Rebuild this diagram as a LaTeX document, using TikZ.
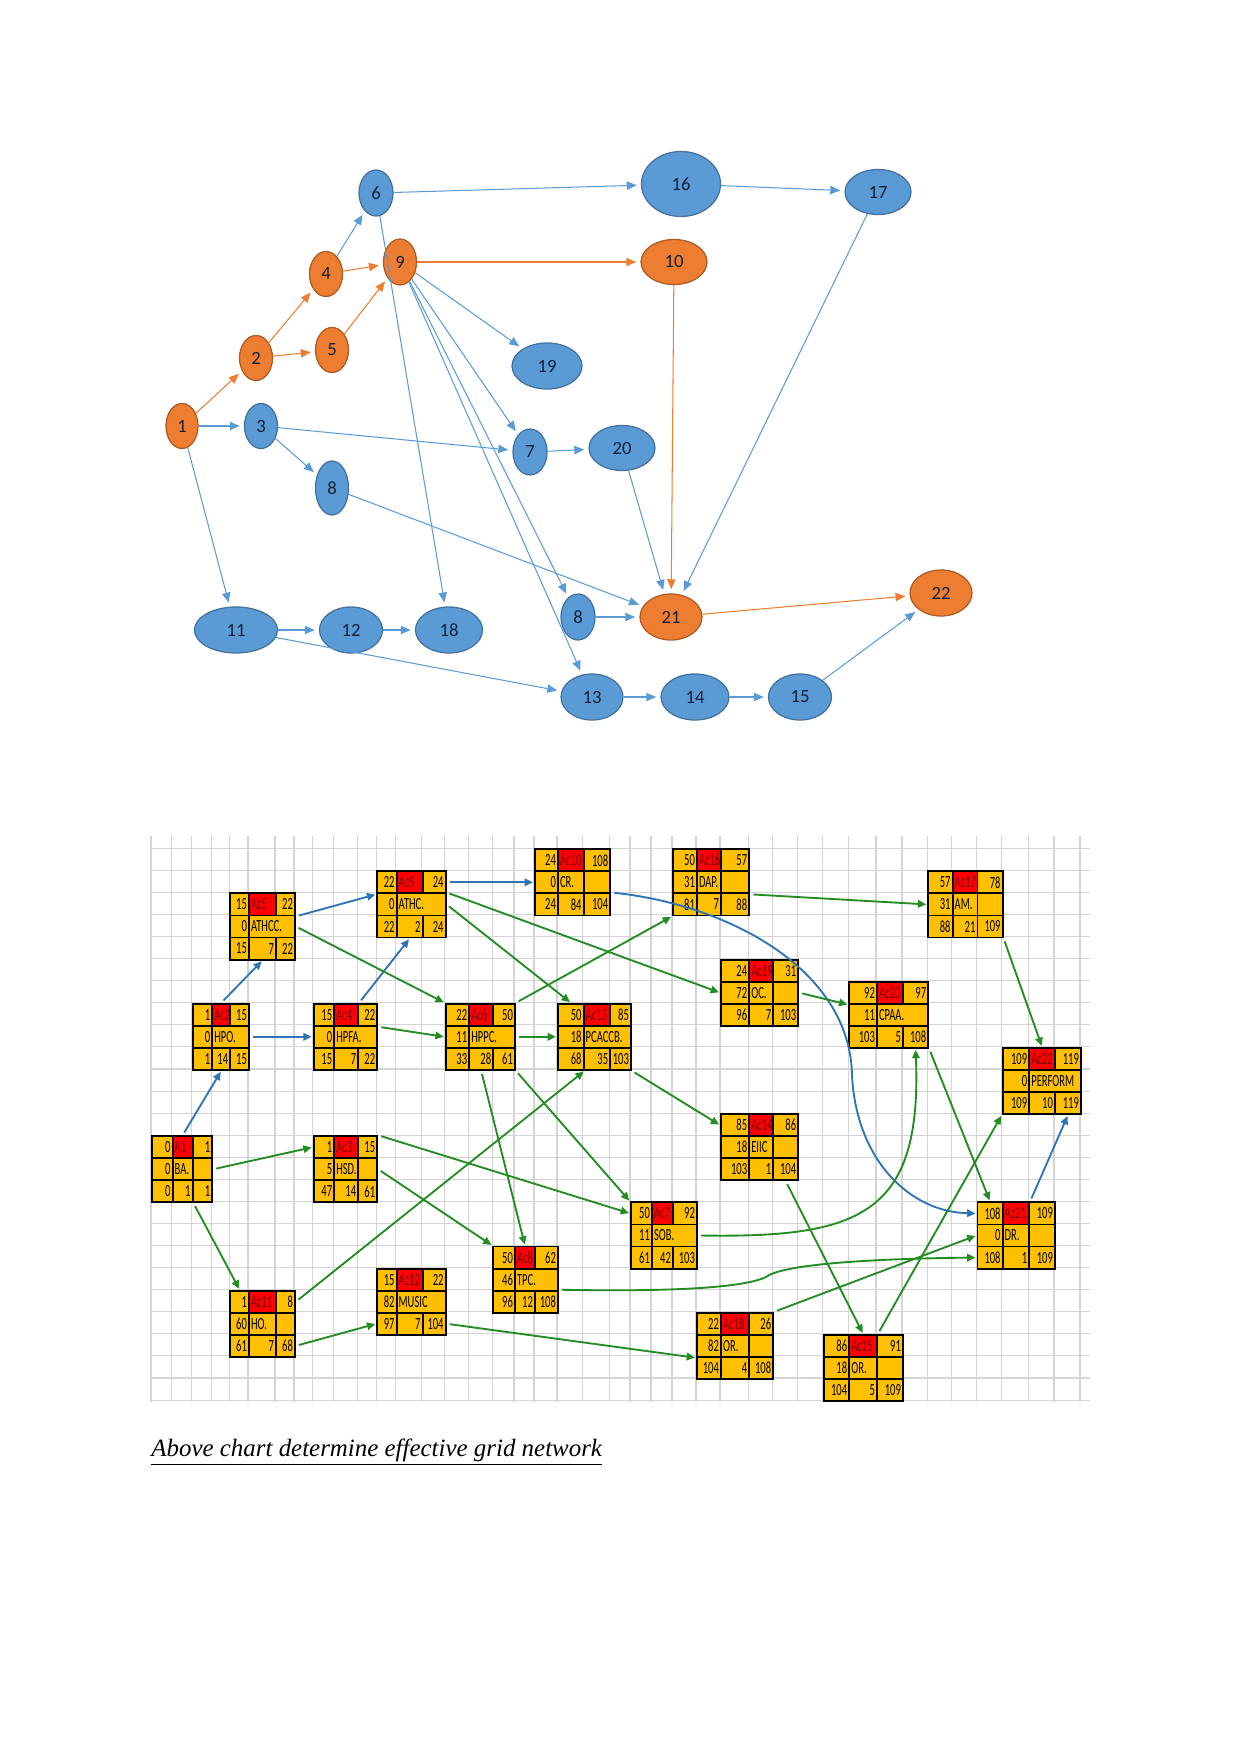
\documentclass[tikz,border=0pt]{standalone}
\usepackage{fontspec}
\setmainfont{Liberation Serif}
\newfontfamily\cellfont[FakeStretch=0.62]{Carlito}
\newfontfamily\bubblefont{Carlito}
\usepackage{tikz}
\usetikzlibrary{shapes.geometric,arrows.meta}

\definecolor{bubbleblue}{HTML}{5B9BD5}
\definecolor{bubbleblueline}{HTML}{41719C}
\definecolor{bubbleorange}{HTML}{ED7D31}
\definecolor{bubbleorangeline}{HTML}{AE5A21}
\definecolor{bubbletext}{HTML}{15213A}
\definecolor{cellgold}{HTML}{FFC000}
\definecolor{cellred}{HTML}{FF0000}
\definecolor{celltext}{HTML}{7A0000}
\definecolor{linkblue}{HTML}{2E75B6}
\definecolor{linkgreen}{HTML}{238C23}
\definecolor{gridgrey}{HTML}{D4D4D4}

\newcommand\gridx{{151,171.7,191.7,211.3,229.3,248,275,294,312.7,333.3,357.3,376.3,395.7,421.7,444.7,468.3,492.3,514,534,557,582.7,609.3,630,651,672,696,720,748.3,772.3,797.3,822.7,848.3,876,902,927.3,951.7,976.5,1001.7,1028.3,1054,1080}}

\begin{document}
\begin{tikzpicture}[x=0.0169218cm,y=-0.0169218cm,
    bubble/.style 2 args={ellipse,draw=bubbleblueline,fill=bubbleblue,line width=0.6pt,
      minimum width=#1*0.4815pt,minimum height=#2*0.4815pt,inner sep=0pt,
      font=\bubblefont\fontsize{9}{9}\selectfont,text=bubbletext},
    crit/.style={draw=bubbleorangeline,fill=bubbleorange},
    cool/.style={draw=bubbleblue,line width=0.5pt,-{Triangle[length=4.8pt,width=4pt]},shorten >=2pt},
    hot/.style={cool,draw=bubbleorange},
    cell/.style={draw=black,line width=0.9pt,fill=cellgold,anchor=north west,
      inner xsep=1pt,inner ysep=0pt,minimum height=22.07*0.4815pt,
      font=\cellfont\fontsize{8.2}{8.5}\selectfont},
    bluelink/.style={draw=linkblue,line width=0.9pt,-{Triangle[length=4pt,width=3.6pt]},
      shorten >=0.5pt,shorten <=1.5pt},
    greenlink/.style={bluelink,draw=linkgreen},
    gridline/.style={draw=gridgrey,line width=0.5pt}]

\useasboundingbox (0,0) rectangle (1241,1754);

\node[bubble={32}{45},crit] (n1) at (182,426) {1};
\node[bubble={33}{45},crit] (n2) at (256,358) {2};
\node[bubble={33}{45}] (n3) at (261,426) {3};
\node[bubble={33}{45},crit] (n4) at (326,274) {4};
\node[bubble={33}{45},crit] (n5) at (332,350) {5};
\node[bubble={34}{46}] (n6) at (376,193) {6};
\node[bubble={34}{46}] (n7) at (530,452) {7};
\node[bubble={33}{54}] (n8a) at (332,488) {8};
\node[bubble={34}{46}] (n8b) at (578,617) {8};
\node[bubble={33}{46},crit] (n9) at (400,262) {9};
\node[bubble={66}{45},crit] (n10) at (674,262) {10};
\node[bubble={83}{46}] (n11) at (236,630) {11};
\node[bubble={63}{46}] (n12) at (351,630) {12};
\node[bubble={62}{46}] (n13) at (592,697) {13};
\node[bubble={68}{46}] (n14) at (695,697) {14};
\node[bubble={63}{46}] (n15) at (800,697) {15};
\node[bubble={79}{65}] (n16) at (681,184) {16};
\node[bubble={66}{45}] (n17) at (878,192) {17};
\node[bubble={67}{46}] (n18) at (449,630) {18};
\node[bubble={70}{46}] (n19) at (547,366) {19};
\node[bubble={66}{45}] (n20) at (622,448) {20};
\node[bubble={62}{46},crit] (n21) at (671,617) {21};
\node[bubble={62}{46},crit] (n22) at (941,593) {22};

\foreach \a/\b in {n1/n2,n2/n4,n2/n5,n4/n9,n5/n9,n9/n10,n10/n21,n21/n22}
  \draw[hot] (\a) -- (\b);
\foreach \a/\b in {n1/n3,n1/n11,n3/n7,n3/n8a,n4/n6,n6/n16,n6/n18,n16/n17,n9/n19,n9/n7,n9/n8b,n9/n13,
    n7/n20,n20/n21,n8a/n21,n17/n21,n8b/n21,n11/n12,n12/n18,n11/n13,n13/n14,n14/n15,n15/n22}
  \draw[cool] (\a) -- (\b);

\foreach \i in {0,...,40} {
  \pgfmathsetmacro\gx{\gridx[\i]}
  \draw[gridline] (\gx,836) -- (\gx,1402);
}
\foreach \k in {0,...,25}
  \draw[gridline] (151,848.3+\k*22.07) -- (1090,848.3+\k*22.07);

\foreach \bn/\bi/\bk/\es/\ac/\ef/\fl/\lb/\jn/\ls/\du/\lf in {
    a1/0/13/0/A1/1/0/BA./0/0/1/1,
    ac2/2/7/1/Ac2/15/0/HPO./1/1/14/15,
    ac3/8/13/1/Ac3/15/5/HSD./0/47/14/61,
    ac4/8/7/15/Ac4/22/0/HPFA./1/15/7/22,
    ac5/4/2/15/Ac5/22/0/ATHCC./1/15/7/22,
    ac6/14/7/22/Ac6/50/11/HPPC./1/33/28/61,
    ac7/22/16/50/Ac7/92/11/SOB./1/61/42/103,
    ac8/16/18/50/Ac8/62/46/TPC./1/96/12/108,
    ac9/11/1/22/Ac9/24/0/ATHC./1/22/2/24,
    ac10/18/0/24/Ac10/108/0/CR./0/24/84/104,
    ac11/4/20/1/Ac11/8/60/HO./0/61/7/68,
    ac12/11/19/15/Ac12/22/82/MUSIC/1/97/7/104,
    ac13/19/7/50/Ac13/85/18/PCACCB./1/68/35/103,
    ac14/26/12/85/Ac14/86/18/EIIC/0/103/1/104,
    ac15/30/22/86/Ac15/91/18/OR./0/104/5/109,
    ac16/24/0/50/Ac16/57/31/DAP./0/81/7/88,
    ac17/34/1/57/Ac17/78/31/AM./0/88/21/109,
    ac18/25/21/22/Ac18/26/82/OR./0/104/4/108,
    ac19/26/5/24/Ac19/31/72/OC./0/96/7/103,
    ac20/31/6/92/Ac20/97/11/CPAA./1/103/5/108,
    ac21/36/16/108/Ac21/109/0/DR./0/108/1/109,
    ac22/37/9/109/Ac22/119/0/PERFORM/1/109/10/119} {
  \pgfmathsetmacro\xa{\gridx[\bi]}
  \pgfmathsetmacro\xb{\gridx[\bi+1]}
  \pgfmathsetmacro\xc{\gridx[\bi+2]}
  \pgfmathsetmacro\xd{\gridx[\bi+3]}
  \pgfmathsetmacro\ya{848.3+\bk*22.07}
  \pgfmathsetmacro\yb{\ya+22.07}
  \pgfmathsetmacro\yc{\ya+44.14}
  \pgfmathsetmacro\wa{(\xb-\xa)*0.4815-2}
  \pgfmathsetmacro\wb{(\xc-\xb)*0.4815-2}
  \pgfmathsetmacro\wc{(\xd-\xc)*0.4815-2}
  \pgfmathsetmacro\wbc{(\xd-\xb)*0.4815-2}
  \node[cell,text width=\wa pt,align=right] (\bn-es) at (\xa,\ya) {\es};
  \node[cell,text width=\wb pt,align=left,fill=cellred,text=celltext] (\bn-ac) at (\xb,\ya) {\ac};
  \node[cell,text width=\wc pt,align=right] (\bn-ef) at (\xc,\ya) {\ef};
  \node[cell,text width=\wa pt,align=right] (\bn-fl) at (\xa,\yb) {\fl};
  \ifnum\jn=1
    \node[cell,text width=\wbc pt,align=left] (\bn-lb) at (\xb,\yb) {\lb};
  \else
    \node[cell,text width=\wb pt,align=left] (\bn-lb) at (\xb,\yb) {\lb};
    \node[cell,text width=\wc pt] (\bn-gap) at (\xc,\yb) {};
  \fi
  \node[cell,text width=\wa pt,align=right] (\bn-ls) at (\xa,\yc) {\ls};
  \node[cell,text width=\wb pt,align=right] (\bn-du) at (\xb,\yc) {\du};
  \node[cell,text width=\wc pt,align=right] (\bn-lf) at (\xc,\yc) {\lf};
}

\draw[bluelink] (a1-ac.north) -- (ac2-du.south);
\draw[bluelink] (ac2-ac.north) -- (ac5-du.south);
\draw[bluelink] (ac2-lb.east) -- (ac4-fl.west);
\draw[bluelink] (ac4-ac.north east) -- (ac9-du.south);
\draw[bluelink] (ac5-ef.south east) -- (ac9-es.south west);
\draw[bluelink] (ac9-ef.east) -- (ac10-fl.west);
\draw[bluelink] (ac10-lf.north east) .. controls (730,905) and (850,970) .. (852,1075)
  .. controls (856,1160) and (910,1212) .. (ac21-es.west);
\draw[bluelink] (ac21-ac.north east) -- (ac22-lf.south);

\draw[greenlink] (a1-gap.east) -- (ac3-es.west);
\draw[greenlink] (a1-du.south east) -- (ac11-es.north);
\draw[greenlink] (ac11-ef.east) -- (ac13-ls.south east);
\draw[greenlink] (ac11-lf.east) -- (ac12-ls.west);
\draw[greenlink] (ac12-lf.east) -- (ac18-fl.south west);
\draw[greenlink] (ac3-ef.north east) -- (ac7-es.west);
\draw[greenlink] (ac3-gap.east) -- (ac8-es.north west);
\draw[greenlink] (ac5-lb.east) -- (ac6-es.north west);
\draw[greenlink] (ac4-ef.south east) -- (ac6-fl.west);
\draw[greenlink] (ac9-lb.east) -- (ac13-es.north);
\draw[greenlink] (ac9-lb.north east) -- (ac19-fl.west);
\draw[greenlink] (ac6-lb.east) -- (ac13-fl.west);
\draw[greenlink] (ac6-ef.north east) -- (ac16-ls.south west);
\draw[greenlink] (ac6-du.south) -- (ac8-ac.north);
\draw[greenlink] (ac6-lf.south east) -- (ac7-es.north west);
\draw[greenlink] (ac13-lf.south east) -- (ac14-es.west);
\draw[greenlink] (ac16-gap.south east) -- (ac17-fl.west);
\draw[greenlink] (ac19-gap.east) -- (ac20-es.south west);
\draw[greenlink] (ac17-lf.south east) -- (ac22-ac.north);
\draw[greenlink] (ac20-lf.south east) -- (ac21-es.north);
\draw[greenlink] (ac7-lb.east) .. controls (860,1238) and (922,1215) .. (ac20-lf.south);
\draw[greenlink] (ac8-lf.north east) .. controls (680,1292) and (745,1287) .. (766,1277)
  .. controls (780,1266) and (850,1259) .. (ac21-ls.west);
\draw[greenlink] (ac18-ef.north east) -- (ac21-fl.west);
\draw[greenlink] (ac14-lf.south) -- (ac15-ac.north);
\draw[greenlink] (ac15-ac.north east) -- (ac22-ls.south west);

\node[anchor=base west,inner sep=0pt,font=\fontsize{12}{14}\selectfont\itshape] (caption)
  at (151,1456) {\underline{Above chart determine effective grid network}};
\end{tikzpicture}
\end{document}
